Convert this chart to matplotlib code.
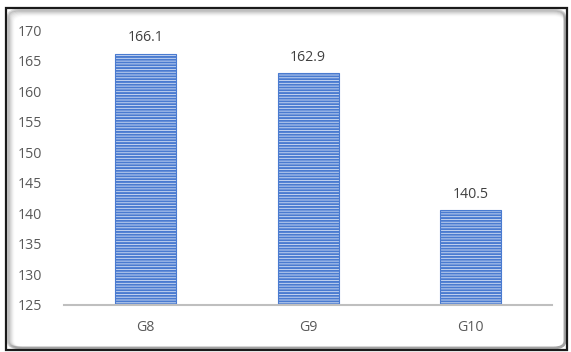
import numpy as np
import matplotlib.pyplot as plt
from matplotlib.patches import Rectangle, FancyBboxPatch

# --- data ---
categories = ["G8", "G9", "G10"]
values = [166.1, 162.9, 140.5]
y_ticks = [125, 130, 135, 140, 145, 150, 155, 160, 165, 170]

plt.rcParams['font.family'] = ['Open Sans', 'DejaVu Sans']
plt.rcParams['hatch.linewidth'] = 1.4

fig = plt.figure(figsize=(5.71, 3.52), dpi=100)

# outer frame with soft inner shadow
W, H = 571, 352
def fx(px):
    return px / W
def fy(py):
    return 1 - py / H

for i, a in enumerate([0.14, 0.10, 0.07, 0.05, 0.03, 0.02]):
    fig.patches.append(FancyBboxPatch((fx(8 + i), fy(348)), fx(557 - i), fy(10 + i) - fy(348),
                                      boxstyle="round,pad=0,rounding_size=0.02",
                                      transform=fig.transFigure, facecolor="none",
                                      edgecolor="black", alpha=a, linewidth=2, zorder=0))
fig.patches.append(Rectangle((fx(6), fy(350)), fx(561), fy(8) - fy(350),
                             transform=fig.transFigure, facecolor="none",
                             edgecolor="#1a1a1a", linewidth=1.6, zorder=1))

ax = fig.add_axes([fx(64), fy(305), fx(552) - fx(64), fy(30) - fy(305)])
x = np.arange(len(categories))
bars = ax.bar(x, values, width=0.375, bottom=0, color="#d6e1f5",
              edgecolor="#4a7bd0", hatch="------", linewidth=0.8, zorder=2)

for xi, v in zip(x, values):
    ax.annotate(f"{v:.1f}", (xi, v), xytext=(0, 6), textcoords="offset points",
                ha="center", va="bottom", fontsize=10.2, color="#404040")

ax.set_ylim(125, 170)
ax.set_xlim(-0.5, len(categories) - 0.5)
ax.set_yticks(y_ticks)
ax.set_xticks(x)
ax.set_xticklabels(categories)
ax.tick_params(axis="y", length=0, pad=16, labelsize=10.2, labelcolor="#595959")
ax.tick_params(axis="x", length=0, pad=11, labelsize=10.2, labelcolor="#595959")
for s in ["top", "right", "left"]:
    ax.spines[s].set_visible(False)
ax.spines["bottom"].set_color("#bfbfbf")
ax.spines["bottom"].set_linewidth(1.5)
ax.patch.set_alpha(0)

fig.savefig("out.png", dpi=100)
